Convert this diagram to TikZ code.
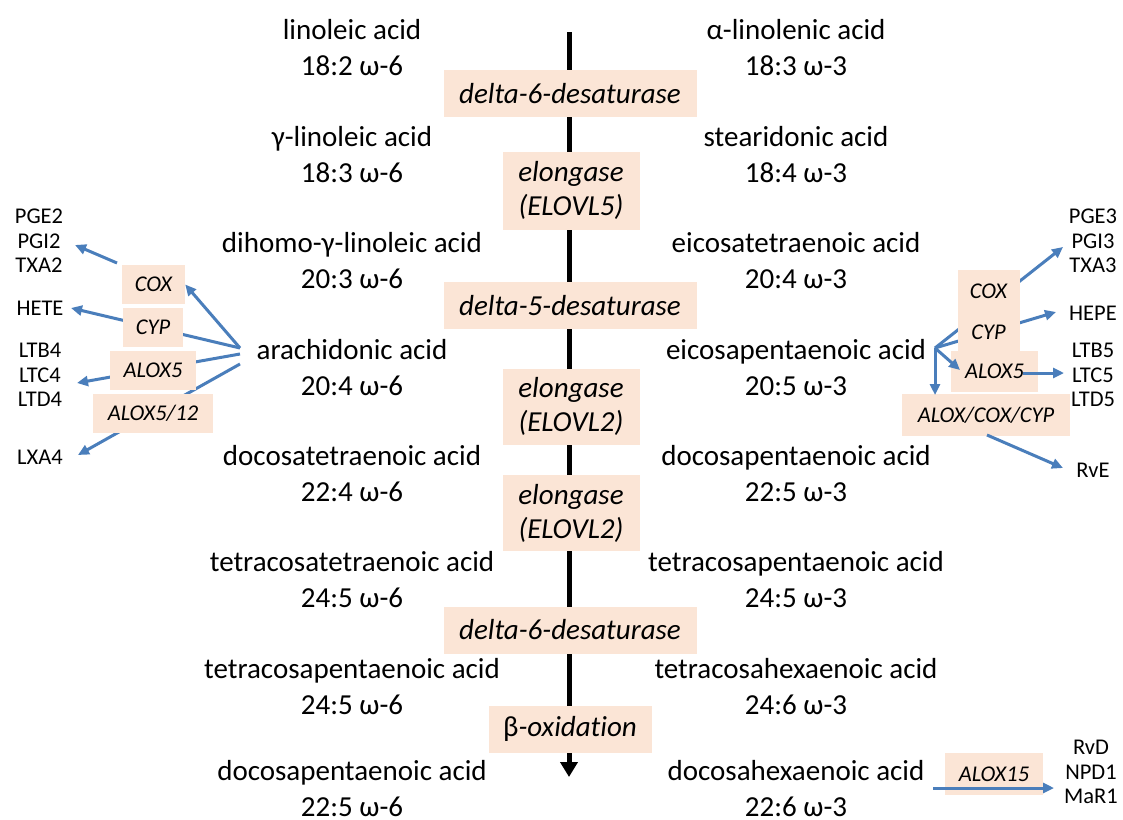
\documentclass[tikz,border=0pt]{standalone}
\usepackage{fontspec}
\setmainfont{Carlito}[Ligatures={NoCommon}]
\usetikzlibrary{arrows.meta,backgrounds}
\definecolor{peach}{RGB}{251,229,214}
\definecolor{lineblue}{RGB}{74,126,187}
\begin{document}
\begin{tikzpicture}[x=1pt,y=-1pt,
  acid/.style={align=center,font=\fontsize{29}{36}\selectfont,inner sep=0pt},
  enz/.style={fill=peach,align=center,font=\fontsize{29}{34}\selectfont\itshape,inner sep=0pt},
  senz/.style={fill=peach,font=\fontsize{22.5}{24.5}\selectfont\itshape,inner sep=0pt,minimum height=39pt},
  prod/.style={align=center,font=\fontsize{22.5}{24.5}\selectfont,inner sep=0pt},
  barrow/.style={draw=lineblue,line width=3pt,-{Triangle[length=11pt,width=10pt]}},
  mainarrow/.style={draw=black,line width=5pt,-{Triangle[length=15pt,width=17pt]}}]
\useasboundingbox (0,0) rectangle (1123,819);

% acids, left column (omega-6)
\node[acid] (l1) at (352,48)    {linoleic acid\\18:2 ω-6};
\node[acid] (l2) at (352,154.4) {γ-linoleic acid\\18:3 ω-6};
\node[acid] (l3) at (352,260.8) {dihomo-γ-linoleic acid\\20:3 ω-6};
\node[acid] (l4) at (352,367.2) {arachidonic acid\\20:4 ω-6};
\node[acid] (l5) at (352,473.6) {docosatetraenoic acid\\22:4 ω-6};
\node[acid] (l6) at (352,580)   {tetracosatetraenoic acid\\24:5 ω-6};
\node[acid] (l7) at (352,686.4) {tetracosapentaenoic acid\\24:5 ω-6};
\node[acid] (l8) at (352,789)   {docosapentaenoic acid\\22:5 ω-6};
% acids, right column (omega-3)
\node[acid] (r1) at (796,48)    {α-linolenic acid\\18:3 ω-3};
\node[acid] (r2) at (796,154.4) {stearidonic acid\\18:4 ω-3};
\node[acid] (r3) at (796,260.8) {eicosatetraenoic acid\\20:4 ω-3};
\node[acid] (r4) at (796,367.2) {eicosapentaenoic acid\\20:5 ω-3};
\node[acid] (r5) at (796,473.6) {docosapentaenoic acid\\22:5 ω-3};
\node[acid] (r6) at (796,580)   {tetracosapentaenoic acid\\24:5 ω-3};
\node[acid] (r7) at (796,686.4) {tetracosahexaenoic acid\\24:6 ω-3};
\node[acid] (r8) at (796,789)   {docosahexaenoic acid\\22:6 ω-3};

% central enzymes
\node[enz,minimum width=253pt,minimum height=47pt] (d6a) at (570,93.5) {delta-6-desaturase};
\node[enz,minimum width=137pt,minimum height=78pt] (el5) at (571,190.5) {elongase\\(ELOVL5)};
\node[enz,minimum width=253pt,minimum height=47pt] (d5) at (570,305.5) {delta-5-desaturase};
\node[enz,minimum width=137pt,minimum height=76pt] (el2a) at (571,406.5) {elongase\\(ELOVL2)};
\node[enz,minimum width=137pt,minimum height=76pt] (el2b) at (571,513) {elongase\\(ELOVL2)};
\node[enz,minimum width=253pt,minimum height=47pt] (d6b) at (570,630) {delta-6-desaturase};
\node[enz,minimum width=163pt,minimum height=47pt] (box) at (570,729) {{\upshape β}-oxidation};

% left side enzymes and products
\node[senz,minimum width=63pt] (coxL) at (153.5,284.5) {COX};
\node[senz,minimum width=60pt] (cypL) at (153,327.5) {CYP};
\node[senz,minimum width=86pt] (aloxL) at (153,370.5) {ALOX5};
\node[senz,minimum width=120pt] (alox12L) at (153,413.5) {ALOX5/12};
\node[prod] (pgL) at (39,241) {PGE2\\PGI2\\TXA2};
\node[prod] (heteL) at (40,308) {HETE};
\node[prod] (ltL) at (40,375) {LTB4\\LTC4\\LTD4};
\node[prod] (lxL) at (40,457) {LXA4};

% right side enzymes and products
\node[senz,minimum width=62pt,minimum height=42pt] (coxR) at (988.5,291) {COX};
\node[senz,minimum width=62pt,minimum height=40pt] (cypR) at (988.5,332) {CYP};
\node[senz,minimum width=87pt,minimum height=41pt] (aloxR) at (994.5,371.5) {ALOX5};
\node[senz,minimum width=168pt,minimum height=42pt] (allR) at (986,415) {ALOX/COX/CYP};
\node[senz,minimum width=98pt,minimum height=42pt] (alox15) at (994,774) {ALOX15};
\node[prod] (pgR) at (1093,241) {PGE3\\PGI3\\TXA3};
\node[prod] (hepeR) at (1093,313) {HEPE};
\node[prod] (ltR) at (1093,375) {LTB5\\LTC5\\LTD5};
\node[prod] (rveR) at (1093,470) {RvE};
\node[prod] (rvdR) at (1091,772) {RvD\\NPD1\\MaR1};

% connector end points
\coordinate (ctop) at (569,32);
\coordinate (cbot) at (569,777);
\coordinate (aaL1) at (240,348);
\coordinate (aaL2) at (240,354);
\coordinate (aaL3) at (240,364);
\coordinate (coxLout) at (117,263);
\coordinate (pgLin) at (75,245);
\coordinate (heteLin) at (71,308);
\coordinate (ltLin) at (77,383);
\coordinate (lxLin) at (78,455);
\coordinate (aaR) at (935,348);
\coordinate (pgRin) at (1063,247);
\coordinate (hepeRin) at (1056,312);
\coordinate (aloxRin) at (960,370);
\coordinate (aloxRout) at (1023,373);
\coordinate (ltRin) at (1064,373);
\coordinate (allRin) at (935,395);
\coordinate (allRout) at (987,435);
\coordinate (rveRin) at (1063,468);
\coordinate (dhaOut) at (933,788);
\coordinate (rvdRin) at (1054,788);

\begin{pgfonlayer}{background}
  \fill[white] (0,0) rectangle (1123,819);
  \path[mainarrow] (ctop) -- (cbot);
  \path[barrow] (aaL1) -- (heteLin);
  \path[barrow] (aaL2) -- (ltLin);
  \path[barrow] (aaL3) -- (lxLin);
  \path[barrow] (aaR) -- (pgRin);
  \path[barrow] (aaR) -- (hepeRin);
\end{pgfonlayer}
\path[barrow] (aaL1) -- (coxL.east);
\path[barrow] (coxLout) -- (pgLin);
\path[barrow] (aaR) -- (aloxRin);
\path[barrow] (aloxRout) -- (ltRin);
\path[barrow] (aaR) -- (allRin);
\path[barrow] (allRout) -- (rveRin);
\path[barrow] (dhaOut) -- (rvdRin);
\end{tikzpicture}
\end{document}
